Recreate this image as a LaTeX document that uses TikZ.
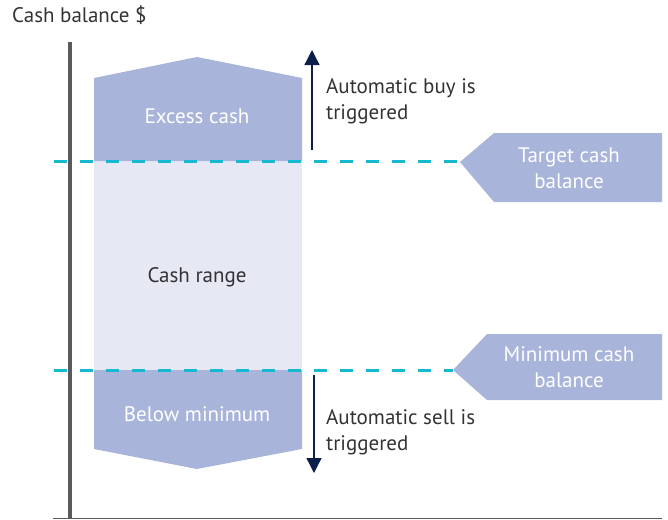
\documentclass[tikz,border=0pt]{standalone}
\usepackage{fontspec}
\setmainfont{PT Sans}
\usetikzlibrary{arrows.meta}
\definecolor{shapeblue}{HTML}{A9B4DA}
\definecolor{rangeblue}{HTML}{E6E8F4}
\definecolor{dashcyan}{HTML}{17B9D1}
\definecolor{arrownavy}{HTML}{0C1E4A}
\definecolor{axisgray}{HTML}{5A5A5C}
\definecolor{textgray}{HTML}{333335}

\begin{document}
\begin{tikzpicture}[x=1pt,y=-1pt,
  lbl/.style={font=\fontsize{21}{26}\selectfont,align=left,text=textgray,inner sep=0pt},
  inlbl/.style={font=\fontsize{21}{26}\selectfont,align=center,text=white,inner sep=0pt},
  level/.style={dashcyan,line width=3pt,dash pattern=on 13pt off 13pt},
  trig/.style={arrownavy,line width=1.3pt,-{Triangle[length=15pt,width=15pt]}}]
\useasboundingbox (0,0) rectangle (668,519);
%\fill[white] (0,0) rectangle (668,519);
\fill[rangeblue] (94,161) rectangle (302,370);
\fill[shapeblue] (94,161)--(94,78)--(197,57)--(302,78)--(302,161)--cycle;
\fill[shapeblue] (94,370)--(94,449)--(197,469)--(302,449)--(302,370)--cycle;
\fill[shapeblue] (460,162)--(494,133)--(662,133)--(662,202)--(494,202)--cycle;
\fill[shapeblue] (453,370)--(487,334)--(662,334)--(662,400)--(487,400)--cycle;
\draw[axisgray,line width=4pt] (70,42)--(70,519);
\draw[axisgray,line width=1pt] (53,518)--(662,518);
\path (12,23) node(title)[lbl,anchor=base west]{Cash balance \$}
(197,123) node(excess)[inlbl,anchor=base]{Excess cash}
(197,282) node(range)[lbl,anchor=base]{Cash range}
(197,421) node(below)[inlbl,anchor=base]{Below minimum}
(569,168) node(target)[inlbl]{Target cash\\balance}
(569,367) node(minimum)[inlbl]{Minimum cash\\balance}
(326,101) node(buy)[lbl,anchor=west]{Automatic buy is\\triggered}
(326,432) node(sell)[lbl,anchor=west]{Automatic sell is\\triggered};
\coordinate (tl) at (54,161);
\coordinate (tr) at (461,161);
\coordinate (ml) at (54,370);
\coordinate (mr) at (453,370);
\coordinate (up0) at (312,150);
\coordinate (up1) at (312,50);
\coordinate (dn0) at (314,375);
\coordinate (dn1) at (314,473);
\draw[level](tl)--(tr);
\draw[level](ml)--(mr);
\draw[trig](up0)--(up1);
\draw[trig](dn0)--(dn1);
\end{tikzpicture}
\end{document}
